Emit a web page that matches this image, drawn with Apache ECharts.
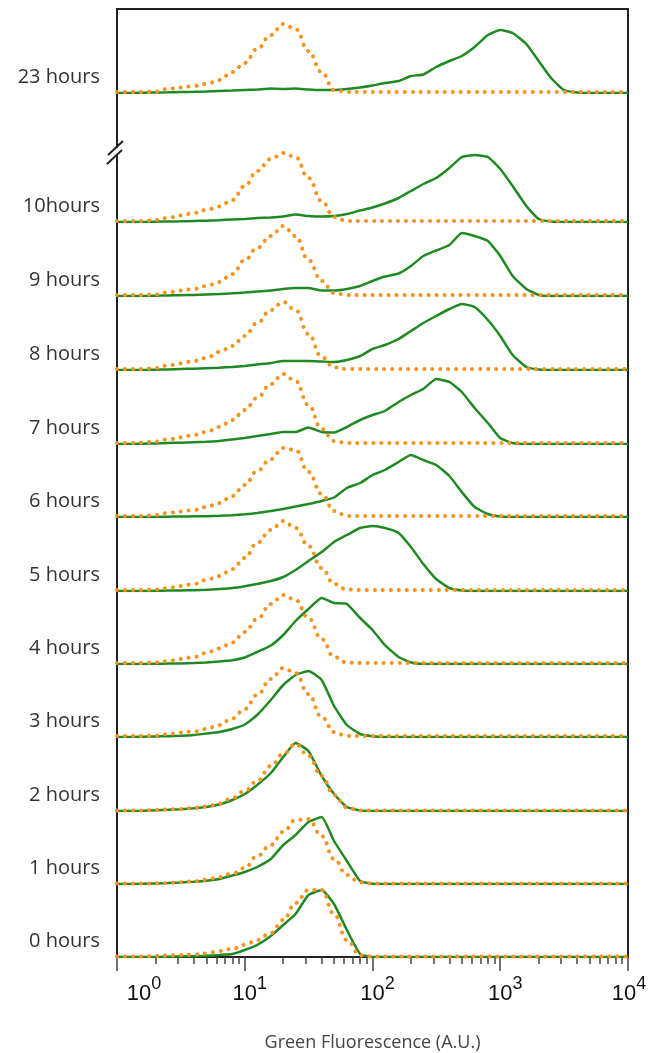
<!DOCTYPE html>
<html>
<head>
<meta charset="utf-8">
<title>Green fluorescence over time</title>
<script src="https://cdn.jsdelivr.net/npm/echarts@6/dist/echarts.min.js"></script>
<style>
  html, body { margin: 0; padding: 0; background: #fff; }
  #chart { width: 650px; height: 1053px; }
</style>
</head>
<body>
<div id="chart"></div>
<script>
// histogram bins (fluorescence, A.U.)
const fluor = [1, 1.25, 1.6, 2, 2.5, 3.15, 4, 5, 6.3, 8, 10, 12.5, 16, 20, 25, 31.5, 40, 50, 63, 80,
  100, 125, 160, 200, 250, 315, 400, 500, 630, 800, 1000, 1250, 1600, 2000, 2500, 3150, 4000, 5000, 6300, 8000, 10000];

const rowLabels = ['23 hours', '10hours', '9 hours', '8 hours', '7 hours', '6 hours',
  '5 hours', '4 hours', '3 hours', '2 hours', '1 hours', '0 hours'];

// green = sample, orange dotted = control; relative counts per bin
const green23 = [0, 0, 0.3, 0.5, 0.7, 1, 1.2, 1.5, 2, 2.5, 3, 3.5, 4.5, 4, 4.5, 3.5, 3, 3, 4, 5.5, 7.5, 10, 12, 17, 18.5, 26, 32, 37, 46, 58, 63, 60, 49, 32, 15, 3, 0.5, 0, 0, 0, 0];
const orange23 = [1, 1, 1, 1.5, 4, 5.5, 7, 9, 13, 21, 30, 44, 58, 69, 64, 42, 21, 3, 1, 1, 1, 1, 1, 1, 1, 1, 1, 1, 1, 1, 1, 1, 1, 1, 1, 1, 1, 1, 1, 1, 1];
const green10 = [0, 0, 0, 0.3, 0.5, 0.7, 1, 1.3, 1.8, 2.5, 3, 4, 4.5, 5.5, 7.5, 6, 5.5, 6, 8, 11.5, 14.5, 18.5, 24, 31, 38, 44, 54, 65, 67, 65, 53, 36, 16, 3, 0.5, 0, 0, 0, 0, 0, 0];
const orange10 = [1, 1, 1, 2, 4, 6.5, 9, 12, 15.5, 22, 36, 51, 63, 69, 65, 44, 21, 5, 1, 1, 1, 1, 1, 1, 1, 1, 1, 1, 1, 1, 1, 1, 1, 1, 1, 1, 1, 1, 1, 1, 1];
const green9 = [0, 0, 0, 0.3, 0.5, 0.8, 1, 1.5, 2, 2.7, 3.5, 4.5, 5.5, 7, 8, 8, 5.5, 5.5, 7, 10, 15, 19.5, 22.5, 30, 40, 45.5, 51, 63, 60, 55, 40, 20, 7, 1, 0, 0, 0, 0, 0, 0, 0];
const orange9 = [1, 1, 1, 1.5, 3.5, 5.5, 7, 10, 14, 22, 36, 48, 60, 70, 60, 36, 15, 3, 1, 1, 1, 1, 1, 1, 1, 1, 1, 1, 1, 1, 1, 1, 1, 1, 1, 1, 1, 1, 1, 1, 1];
const green8 = [0, 0, 0, 0.3, 0.5, 1, 1.3, 1.8, 2.3, 3, 4, 5.5, 7, 9, 9, 9, 8.5, 8, 10, 14, 21, 25, 31, 39, 47, 54, 61, 66, 63, 50, 34, 15, 3, 0.5, 0, 0, 0, 0, 0, 0, 0];
const orange8 = [1, 1, 1, 2, 4.5, 6.5, 9, 12, 18, 24, 34, 47, 60, 68, 60, 36, 13, 2.5, 1, 1, 1, 1, 1, 1, 1, 1, 1, 1, 1, 1, 1, 1, 1, 1, 1, 1, 1, 1, 1, 1, 1];
const green7 = [0, 0, 0.3, 0.5, 1, 1.3, 1.8, 2.2, 3, 4.5, 6, 8, 10, 12, 12, 16.5, 12, 11.5, 17, 24, 29, 33, 42, 49, 55, 65, 62, 52, 36, 21, 6, 1, 0, 0, 0, 0, 0, 0, 0, 0, 0];
const orange7 = [1, 1, 1.5, 2.5, 4.5, 6.5, 9, 12, 17, 24, 34, 46, 60, 70, 63, 39, 15, 3, 1, 1, 1, 1, 1, 1, 1, 1, 1, 1, 1, 1, 1, 1, 1, 1, 1, 1, 1, 1, 1, 1, 1];
const green6 = [0, 0, 0, 0, 0.3, 0.5, 0.7, 0.8, 1.2, 1.8, 2.7, 4, 6, 8, 10.5, 13, 16, 19.5, 29, 34, 42, 47, 55, 62, 57, 52, 41, 25, 10, 3, 0.5, 0, 0, 0, 0, 0, 0, 0, 0, 0, 0];
const orange6 = [1, 1, 1, 2, 4, 5.5, 7, 10, 14, 21, 32, 46, 58, 69, 67, 45, 23, 6, 1, 1, 1, 1, 1, 1, 1, 1, 1, 1, 1, 1, 1, 1, 1, 1, 1, 1, 1, 1, 1, 1, 1];
const green5 = [0, 0, 0, 0.2, 0.4, 0.6, 0.8, 1.2, 2, 3, 4.8, 7, 10, 14, 21, 30, 39, 49, 56, 63, 65, 63, 58, 44, 27, 12, 3, 0.5, 0, 0, 0, 0, 0, 0, 0, 0, 0, 0, 0, 0, 0];
const orange5 = [1, 1, 1, 1.5, 3, 5, 7, 11, 15, 22, 33, 48, 61, 70, 63, 45, 23, 7, 1.5, 1, 1, 1, 1, 1, 1, 1, 1, 1, 1, 1, 1, 1, 1, 1, 1, 1, 1, 1, 1, 1, 1];
const green4 = [0, 0, 0, 0.2, 0.4, 0.6, 1, 1.5, 2.5, 3.8, 6.5, 12, 18.5, 29, 43, 55, 66, 61, 60, 46, 34, 19, 7, 1.5, 0, 0, 0, 0, 0, 0, 0, 0, 0, 0, 0, 0, 0, 0, 0, 0, 0];
const orange4 = [1, 1, 1, 1.5, 3, 5, 7, 11, 15.5, 21.5, 32, 45, 60, 69, 64, 46, 25, 7, 1.5, 1, 1, 1, 1, 1, 1, 1, 1, 1, 1, 1, 1, 1, 1, 1, 1, 1, 1, 1, 1, 1, 1];
const green3 = [0, 0, 0.3, 0.5, 0.8, 1.2, 2, 3.5, 5, 8, 12.5, 22, 37, 52, 62, 66, 57, 31, 12, 3, 0.7, 0, 0, 0, 0, 0, 0, 0, 0, 0, 0, 0, 0, 0, 0, 0, 0, 0, 0, 0, 0];
const orange3 = [1, 1, 1, 1.5, 3, 4.5, 5.5, 8, 12, 18.5, 28, 42, 58, 69, 64, 43, 20, 5, 1, 1, 1, 1, 1, 1, 1, 1, 1, 1, 1, 1, 1, 1, 1, 1, 1, 1, 1, 1, 1, 1, 1];
const green2 = [0, 0, 0.3, 0.7, 1.2, 1.8, 2.7, 4, 6.5, 11, 17, 26, 38, 54, 68, 60, 35, 17, 4, 0.5, 0, 0, 0, 0, 0, 0, 0, 0, 0, 0, 0, 0, 0, 0, 0, 0, 0, 0, 0, 0, 0];
const orange2 = [0.5, 0.5, 0.5, 1, 1.5, 2, 3, 4.5, 7.5, 13, 20, 30, 45, 57, 67, 55, 35, 16, 3.5, 0.5, 0.5, 0.5, 0.5, 0.5, 0.5, 0.5, 0.5, 0.5, 0.5, 0.5, 0.5, 0.5, 0.5, 0.5, 0.5, 0.5, 0.5, 0.5, 0.5, 0.5, 0.5];
const green1 = [0, 0, 0.3, 0.6, 1, 1.5, 2.3, 3.3, 5, 8.5, 12, 17, 25, 39, 49, 62, 67, 43, 23, 3, 0.3, 0, 0, 0, 0, 0, 0, 0, 0, 0, 0, 0, 0, 0, 0, 0, 0, 0, 0, 0, 0];
const orange1 = [0.5, 0.5, 0.5, 0.7, 1, 1.7, 2.7, 4.3, 7, 10.5, 16, 28, 39, 52, 64, 65, 48, 25, 9, 1.5, 0.5, 0.5, 0.5, 0.5, 0.5, 0.5, 0.5, 0.5, 0.5, 0.5, 0.5, 0.5, 0.5, 0.5, 0.5, 0.5, 0.5, 0.5, 0.5, 0.5, 0.5];
const green0 = [0, 0, 0, 0, 0.3, 0.5, 0.8, 1.2, 2, 3, 7, 12, 21, 32, 43, 62, 67, 53, 27, 3, 0, 0, 0, 0, 0, 0, 0, 0, 0, 0, 0, 0, 0, 0, 0, 0, 0, 0, 0, 0, 0];
const orange0 = [0.5, 0.5, 0.5, 1, 1.5, 2, 2.5, 3.5, 6, 8, 12, 17, 24, 37, 54, 67, 67, 43, 17, 1.5, 0.5, 0.5, 0.5, 0.5, 0.5, 0.5, 0.5, 0.5, 0.5, 0.5, 0.5, 0.5, 0.5, 0.5, 0.5, 0.5, 0.5, 0.5, 0.5, 0.5, 0.5];

const greenRows = [green23, green10, green9, green8, green7, green6, green5, green4, green3, green2, green1, green0];
const orangeRows = [orange23, orange10, orange9, orange8, orange7, orange6, orange5, orange4, orange3, orange2, orange1, orange0];

// minor tick positions on the log axis
const minorTicks = [2, 3, 4, 5, 6, 7, 8, 9, 20, 30, 40, 50, 60, 70, 80, 90,
  200, 300, 400, 500, 600, 700, 800, 900, 2000, 3000, 4000, 5000, 6000, 7000, 8000, 9000];

// layout (pixels)
const left = 117, right = 22, frameTop = 9, frameBottom = 957;
const rowBaseline = [93, 222, 296, 370, 444, 517, 591, 664, 737, 811, 884, 957];
const rowHeight = 80;

const GREEN = '#1f8a22';
const ORANGE = '#f7921e';

const chart = echarts.init(document.getElementById('chart'));

const grids = [], xAxes = [], yAxes = [], series = [];

rowBaseline.forEach(function (base, i) {
  grids.push({ left: left, right: right, top: base - rowHeight, height: rowHeight, outerBoundsMode: 'none' });
  xAxes.push({ type: 'log', gridIndex: i, min: 1, max: 10000, show: false });
  yAxes.push({
    type: 'value', gridIndex: i, min: 0, max: rowHeight, interval: 16,
    axisLine: { show: false }, axisTick: { show: false }, splitLine: { show: false },
    axisLabel: {
      margin: 17, fontFamily: 'Open Sans', fontSize: 20, color: '#333',
      formatter: function (v) { return v === 16 ? rowLabels[i] : ''; }
    }
  });
  series.push({
    type: 'line', xAxisIndex: i, yAxisIndex: i, z: 2,
    data: fluor.map(function (f, k) { return [f, greenRows[i][k]]; }),
    showSymbol: false, symbol: 'none', smooth: 0.15,
    lineStyle: { color: GREEN, width: 2.5 }
  });
  series.push({
    type: 'line', xAxisIndex: i, yAxisIndex: i, z: 3,
    data: fluor.map(function (f, k) { return [f, orangeRows[i][k]]; }),
    showSymbol: false, symbol: 'none', smooth: 0.45, smoothMonotone: 'x',
    lineStyle: { color: ORANGE, width: 4, type: [0.1, 7.9], cap: 'round' }
  });
});

// frame with the bottom axis
const fi = rowBaseline.length;
grids.push({
  left: left, right: right, top: frameTop, bottom: 1053 - frameBottom,
  show: true, borderColor: '#222', borderWidth: 2, backgroundColor: 'transparent', z: 0,
  outerBoundsMode: 'none'
});
xAxes.push({
  type: 'log', gridIndex: fi, min: 1, max: 10000, position: 'bottom',
  axisLine: { show: true, lineStyle: { color: '#222', width: 2 } },
  axisTick: { show: true, length: 14, lineStyle: { color: '#444', width: 1.5 } },
  splitLine: { show: false },
  axisLabel: {
    margin: 26, color: '#111',
    formatter: function (v) {
      const e = Math.round(Math.log(v) / Math.LN10);
      const pad = e === 0 ? 'first' : (e === 4 ? 'last' : 'pad');
      return '{' + pad + '|}{b|10}{s|' + e + '}';
    },
    rich: {
      b: { fontFamily: 'Liberation Sans', fontSize: 22, lineHeight: 22, verticalAlign: 'bottom', color: '#111' },
      s: { fontFamily: 'Liberation Sans', fontSize: 18, lineHeight: 18, verticalAlign: 'bottom', padding: [0, 0, 12, 0], color: '#111' },
      pad: { width: 10 },
      first: { width: 54 },
      last: { width: 2 }
    }
  },
  name: 'Green Fluorescence (A.U.)', nameLocation: 'middle', nameGap: 77,
  nameTextStyle: { fontFamily: 'Open Sans', fontSize: 18, color: '#444' }
});
xAxes.push({
  type: 'log', gridIndex: fi, min: 1, max: 10000, position: 'bottom',
  axisLine: { show: false },
  axisTick: { show: true, length: 7, customValues: minorTicks, lineStyle: { color: '#444', width: 1.5 } },
  axisLabel: { show: false },
  splitLine: { show: false }
});
yAxes.push({ type: 'value', gridIndex: fi, show: false });

chart.setOption({
  animation: false,
  backgroundColor: '#fff',
  grid: grids,
  xAxis: xAxes,
  yAxis: yAxes,
  series: series,
  graphic: [
    // axis break on the left frame line
    { type: 'rect', shape: { x: 113, y: 148, width: 8, height: 6 }, style: { fill: '#fff' }, z: 100 },
    { type: 'line', shape: { x1: 108, y1: 155, x2: 123, y2: 141 }, style: { stroke: '#222', lineWidth: 2 }, z: 101 },
    { type: 'line', shape: { x1: 107, y1: 164, x2: 122, y2: 150 }, style: { stroke: '#222', lineWidth: 2 }, z: 101 }
  ]
});
</script>
</body>
</html>
